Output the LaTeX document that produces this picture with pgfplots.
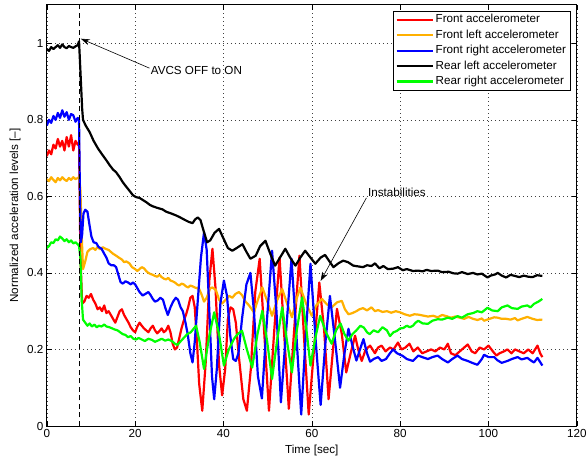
\documentclass[border=0pt]{standalone}
\usepackage{fontspec}
\setmainfont{Liberation Sans}
\usepackage{pgfplots}
\pgfplotsset{compat=1.18}
\usetikzlibrary{arrows.meta}
\definecolor{morange}{rgb}{1,0.69,0}
\newcommand{\ff}{\fontsize{11.7}{14}\selectfont}
\begin{document}
\begin{tikzpicture}
\begin{axis}[
  scale only axis, width=530bp, height=421bp,
  xmin=0, xmax=120, ymin=0, ymax=1.1,
  xtick={0,20,40,60,80,100,120},
  xticklabels={0,20,40,60,80,100,120},
  ytick={0,0.2,0.4,0.6,0.8,1},
  yticklabels={0,0.2,0.4,0.6,0.8,1},
  /pgf/number format/assume math mode=true,
  tick align=inside, tick pos=both, major tick length=5bp,
  tick style={black, line width=0.6bp},
  grid=major,
  major grid style={black!75, line width=0.5bp, dash pattern=on 0.8bp off 3.2bp},
  axis line style={black, line width=1bp},
  font=\ff, tick label style={font=\ff}, label style={font=\ff},
  xlabel={Time [sec]}, ylabel={Normalized acceleration levels [--]},
  xlabel style={at={(axis description cs:0.5,-0.057)}, anchor=center},
  ylabel style={at={(axis description cs:-0.06,0.5)}, anchor=center},
  legend style={at={(1,1)}, anchor=north east, xshift=-6.5bp, yshift=-6bp,
    draw=black, line width=0.8bp, fill=white, font=\ff,
    inner xsep=2bp, inner ysep=1bp, row sep=0.4bp,
    nodes={inner sep=2bp, text height=8.5bp, text depth=2.5bp}},
  legend cell align=left,
  legend image code/.code={\draw[#1, line width=2.2bp] (-1bp,0bp) -- (35bp,0bp);},
  every axis plot/.append style={line width=2.2bp, line join=round},
]
\addplot[red] table {
0 0.705
0.5 0.72
1 0.71
1.5 0.735
2 0.725
2.5 0.75
3 0.73
3.5 0.745
4 0.72
4.5 0.755
5 0.73
5.5 0.76
6 0.72
6.5 0.745
7 0.735
7.3 0.74
7.6 0.45
8.0 0.32
8.5 0.325
9.0 0.34
9.5 0.335
10.0 0.345
10.5 0.33
11.0 0.32
11.5 0.305
12.0 0.31
12.5 0.3
13.0 0.315
13.5 0.295
14.0 0.30
14.5 0.29
15.0 0.28
15.5 0.27
16.0 0.285
16.5 0.30
17.0 0.305
17.5 0.29
18.0 0.28
18.5 0.27
19.0 0.258
19.5 0.25
20.0 0.245
20.5 0.26
21.0 0.27
21.5 0.262
22.0 0.255
22.5 0.25
23.0 0.245
23.5 0.255
24.0 0.262
24.5 0.25
25.0 0.242
25.5 0.248
26.0 0.255
26.5 0.245
27.0 0.25
27.5 0.262
28.0 0.245
28.5 0.215
29.0 0.2
29.5 0.205
30.0 0.23
30.5 0.255
31.0 0.275
31.5 0.29
32.0 0.31
32.5 0.335
33.0 0.34
33.5 0.31
34.0 0.22
34.5 0.11
35.2 0.04
36.0 0.17
36.8 0.38
37.5 0.463
38.2 0.36
39.0 0.16
39.7 0.08
40.4 0.15
41.0 0.28
41.6 0.31
42.2 0.305
42.8 0.27
43.5 0.18
44.5 0.07
45.3 0.04
46.2 0.15
47.2 0.35
48.2 0.437
49.2 0.25
50.3 0.04
51.5 0.25
52.7 0.44
53.8 0.23
54.8 0.045
56.0 0.25
57.2 0.445
58.3 0.22
59.3 0.03
60.5 0.2
61.7 0.375
62.8 0.25
63.8 0.07
64.8 0.2
65.7 0.306
66.8 0.24
67.8 0.14
68.8 0.19
69.8 0.236
70.5 0.2
71.3 0.17
72.2 0.2
73.2 0.21
74.3 0.19
75.0 0.205
75.8 0.21
76.7 0.195
77.7 0.205
78.5 0.2
79.5 0.218
80.3 0.2
81.2 0.205
82.1 0.215
83.0 0.195
84.0 0.205
85.0 0.19
86.0 0.195
87.0 0.2
88.0 0.195
89.0 0.205
90.0 0.2
90.8 0.215
91.5 0.19
92.5 0.185
93.5 0.195
94.5 0.205
95.3 0.213
96.2 0.195
97.0 0.19
98.0 0.205
99.0 0.2
100.0 0.21
101.0 0.195
101.8 0.184
102.5 0.19
103.5 0.195
104.3 0.2
105.2 0.19
106.0 0.2
107.0 0.195
108.0 0.19
109.0 0.2
110.0 0.19
111.1 0.21
111.7 0.19
112.2 0.18
};
\addlegendentry{Front accelerometer}
\addplot[morange] table {
0 0.645
0.5 0.64
1 0.65
1.5 0.643
2 0.637
2.5 0.648
3 0.642
3.5 0.65
4 0.644
4.5 0.64
5 0.648
5.5 0.643
6 0.65
6.5 0.645
7 0.648
7.3 0.65
7.6 0.62
7.9 0.50
8.2 0.41
8.7 0.43
9.2 0.455
9.8 0.462
10.5 0.465
11.0 0.46
11.5 0.468
12.0 0.462
12.7 0.467
13.3 0.463
14.0 0.46
14.5 0.455
15.0 0.45
15.7 0.445
16.3 0.44
17.0 0.435
17.5 0.428
18.0 0.43
18.7 0.425
19.3 0.415
20.0 0.41
20.5 0.405
21.0 0.41
21.5 0.415
22.0 0.412
22.5 0.405
23.0 0.40
23.5 0.397
24.0 0.395
24.5 0.392
25.0 0.39
25.5 0.395
26.0 0.389
26.5 0.385
27.0 0.383
27.5 0.387
28.0 0.38
28.5 0.378
29.0 0.375
29.5 0.37
30.0 0.367
30.5 0.372
31.0 0.37
31.5 0.365
32.0 0.362
32.5 0.367
33.0 0.365
33.5 0.362
34.0 0.36
34.5 0.358
35.0 0.345
35.6 0.325
36.2 0.335
37.0 0.36
37.5 0.362
38.3 0.355
39.0 0.33
39.7 0.32
40.5 0.33
41.3 0.34
42.0 0.335
42.7 0.345
43.5 0.35
44.2 0.342
45.0 0.325
45.8 0.315
46.9 0.297
47.8 0.33
48.8 0.362
49.8 0.33
51.0 0.288
52.2 0.33
53.3 0.358
54.4 0.32
55.5 0.284
56.5 0.33
57.4 0.362
58.7 0.32
60.0 0.288
61.0 0.315
62.3 0.332
63.4 0.318
64.5 0.31
65.7 0.323
66.8 0.327
67.5 0.305
68.3 0.292
69.2 0.295
70.1 0.3
70.8 0.305
71.6 0.308
72.5 0.302
73.5 0.31
74.3 0.3
75.0 0.303
76.0 0.298
77.0 0.3
78.0 0.296
79.0 0.3
80.0 0.297
81.0 0.292
82.2 0.288
83.2 0.292
84.1 0.291
85.0 0.289
86.3 0.286
87.5 0.288
88.5 0.284
89.5 0.29
90.5 0.287
91.5 0.283
92.5 0.286
93.5 0.283
94.5 0.28
95.5 0.285
96.5 0.28
97.5 0.277
98.5 0.281
99.0 0.275
100.0 0.279
101.3 0.284
102.1 0.283
103.0 0.28
104.0 0.28
105.0 0.278
106.0 0.282
106.6 0.276
107.5 0.28
108.8 0.285
110.0 0.28
111.0 0.277
112.2 0.278
};
\addlegendentry{Front left accelerometer}
\addplot[blue] table {
0 0.785
0.5 0.80
1 0.792
1.5 0.81
2 0.80
2.5 0.818
3 0.805
3.5 0.825
4 0.808
4.5 0.82
5 0.80
5.5 0.815
6 0.812
6.5 0.795
7 0.805
7.3 0.80
7.5 0.60
7.7 0.48
8.0 0.50
8.3 0.555
8.7 0.565
9.2 0.56
9.6 0.53
10.1 0.495
10.6 0.48
11.2 0.478
11.7 0.468
12.4 0.463
13.0 0.45
13.5 0.44
14.0 0.425
14.6 0.42
15.2 0.42
15.7 0.415
16.2 0.395
16.7 0.376
17.2 0.372
17.8 0.378
18.4 0.375
19.0 0.37
19.5 0.375
20.0 0.37
20.5 0.36
21.0 0.35
21.7 0.341
22.3 0.345
23.0 0.35
23.5 0.342
24.0 0.332
24.5 0.325
25.1 0.328
25.7 0.335
26.3 0.33
26.8 0.31
27.4 0.29
28.0 0.31
28.6 0.325
29.2 0.335
29.7 0.33
30.3 0.31
30.8 0.3
31.4 0.27
31.9 0.24
32.5 0.19
33.0 0.166
33.5 0.22
34.2 0.33
34.9 0.44
35.6 0.506
36.2 0.46
36.8 0.3
37.4 0.13
37.9 0.07
38.5 0.15
39.3 0.32
40.1 0.38
40.8 0.34
41.5 0.24
42.2 0.175
42.8 0.17
43.4 0.19
44.2 0.28
45.2 0.37
46.1 0.40
46.9 0.30
47.8 0.13
48.7 0.072
49.8 0.27
51.0 0.458
52.0 0.30
53.0 0.062
54.2 0.25
55.4 0.437
56.5 0.24
57.6 0.03
58.7 0.25
59.7 0.424
60.9 0.22
62.0 0.055
63.1 0.22
64.1 0.34
65.3 0.22
66.4 0.10
67.4 0.19
68.3 0.254
69.2 0.21
70.1 0.171
70.9 0.2
71.7 0.227
72.5 0.19
73.2 0.168
74.0 0.175
75.0 0.18
75.8 0.17
76.8 0.175
77.7 0.19
78.4 0.2
79.3 0.19
80.6 0.183
81.5 0.175
82.9 0.17
84.1 0.184
85.0 0.18
86.3 0.175
87.3 0.18
88.5 0.184
89.5 0.175
90.8 0.166
91.8 0.175
93.0 0.184
94.0 0.175
95.3 0.17
96.3 0.165
97.5 0.16
98.5 0.175
99.0 0.186
100.0 0.18
101.3 0.18
102.0 0.172
103.0 0.165
104.3 0.17
105.3 0.175
106.6 0.18
107.5 0.174
108.8 0.178
109.5 0.172
110.3 0.166
111.1 0.178
112.2 0.158
};
\addlegendentry{Front right accelerometer}
\addplot[black] table {
0 0.985
0.5 0.98
1 0.99
1.5 0.985
2 0.99
2.5 0.995
3 0.988
3.5 0.997
4 0.99
4.5 0.987
5 0.993
5.5 0.99
6 0.988
6.5 0.992
7.0 0.995
7.3 1.005
7.6 0.93
8.0 0.83
8.2 0.80
8.8 0.785
9.7 0.768
10.6 0.745
11.6 0.725
12.5 0.71
13.5 0.694
14.2 0.682
15.0 0.67
15.7 0.663
16.5 0.65
17.2 0.637
18.0 0.625
18.7 0.615
19.5 0.603
20.2 0.598
21.0 0.596
21.8 0.59
22.5 0.585
23.3 0.578
24.0 0.574
25.0 0.57
26.2 0.566
27.0 0.56
28.0 0.556
29.3 0.55
30.2 0.545
31.0 0.54
31.5 0.537
32.2 0.533
33.0 0.53
33.6 0.54
34.2 0.545
34.8 0.538
35.5 0.51
36.3 0.48
37.0 0.485
38.0 0.505
39.0 0.515
40.0 0.49
41.0 0.465
42.0 0.458
43.0 0.465
44.3 0.475
45.2 0.455
46.1 0.437
47.3 0.445
48.3 0.47
49.5 0.484
50.6 0.45
51.7 0.419
52.8 0.44
54.0 0.463
55.1 0.44
56.3 0.419
57.4 0.44
58.5 0.458
59.7 0.44
60.8 0.424
62.0 0.44
63.0 0.447
64.0 0.43
64.9 0.415
66.0 0.425
67.1 0.432
68.2 0.428
69.4 0.419
70.5 0.417
71.6 0.415
72.5 0.42
73.5 0.418
74.3 0.425
75.3 0.412
76.2 0.418
77.2 0.41
78.4 0.411
79.5 0.415
80.6 0.407
81.5 0.41
82.9 0.405
84.1 0.406
85.1 0.404
86.0 0.408
87.0 0.405
88.5 0.406
89.5 0.402
91.0 0.403
92.0 0.399
93.0 0.398
94.0 0.402
95.3 0.397
96.5 0.4
97.5 0.396
98.5 0.398
99.8 0.388
100.5 0.393
101.5 0.396
102.1 0.4
103.0 0.393
104.0 0.388
105.0 0.395
106.0 0.392
107.0 0.389
108.0 0.393
109.0 0.39
110.0 0.389
111.0 0.394
112.2 0.392
};
\addlegendentry{Rear left accelerometer}
\addplot[green] table {
0 0.465
0.5 0.47
1 0.48
1.5 0.478
2 0.488
2.5 0.485
3 0.495
3.5 0.49
4 0.483
4.5 0.488
5 0.48
5.5 0.485
6 0.477
6.5 0.48
7.0 0.475
7.3 0.47
7.6 0.44
7.9 0.33
8.2 0.278
8.7 0.27
9.2 0.262
9.7 0.268
10.2 0.26
10.8 0.265
11.3 0.258
11.8 0.262
12.4 0.26
13.0 0.265
13.5 0.26
14.2 0.258
14.8 0.255
15.4 0.252
16.0 0.25
16.6 0.245
17.2 0.24
17.8 0.238
18.4 0.232
19.0 0.235
19.6 0.228
20.2 0.226
20.8 0.23
21.5 0.226
22.2 0.222
23.0 0.228
23.8 0.225
24.5 0.22
25.3 0.224
26.0 0.228
26.8 0.223
27.5 0.226
28.3 0.222
29.0 0.215
29.6 0.212
30.2 0.22
31.0 0.23
31.8 0.24
32.6 0.245
33.3 0.255
33.8 0.262
34.6 0.22
35.6 0.149
36.7 0.23
37.9 0.297
39.0 0.24
40.1 0.158
41.2 0.2
42.4 0.228
43.2 0.24
44.2 0.249
45.3 0.2
46.5 0.153
47.7 0.24
48.8 0.301
49.9 0.22
51.0 0.123
52.1 0.22
53.3 0.31
54.4 0.22
55.5 0.14
56.6 0.25
57.8 0.336
58.8 0.25
59.7 0.158
60.8 0.23
61.9 0.288
63.2 0.245
64.5 0.215
65.5 0.25
66.5 0.268
67.4 0.24
68.3 0.223
69.2 0.24
70.1 0.25
71.0 0.262
71.8 0.257
72.5 0.245
73.1 0.24
74.0 0.25
75.0 0.245
76.0 0.258
77.0 0.25
77.7 0.235
78.5 0.245
79.2 0.248
80.0 0.255
80.7 0.256
81.5 0.262
82.2 0.258
82.9 0.262
83.5 0.27
84.1 0.275
85.1 0.268
86.3 0.267
87.3 0.275
88.5 0.279
89.5 0.278
90.8 0.283
91.8 0.28
93.0 0.287
94.0 0.283
95.3 0.292
96.5 0.295
97.5 0.3
98.5 0.297
99.8 0.309
100.8 0.302
102.1 0.3
103.0 0.31
104.3 0.315
105.3 0.308
106.6 0.306
107.5 0.312
108.8 0.315
109.5 0.31
110.3 0.319
111.3 0.325
112.2 0.332
};
\addlegendentry{Rear right accelerometer}
\addplot[forget plot, black, line width=0.8bp, dash pattern=on 5bp off 3.5bp] coordinates {(7.3,0) (7.3,1.1)};
\draw[black, line width=0.6bp, -{Stealth[length=9bp, width=6bp]}] (axis cs:23.25,0.935) -- (axis cs:7.7,1.012);
\node[anchor=west, inner sep=0.5bp, font=\ff] at (axis cs:23.4,0.93) {AVCS OFF to ON};
\draw[black, line width=0.6bp, -{Stealth[length=9bp, width=6bp]}] (axis cs:72.36,0.596) -- (axis cs:62.0,0.379);
\node[anchor=west, inner sep=0.5bp, font=\ff] at (axis cs:72.6,0.611) {Instabilities};
\end{axis}
\pgfresetboundingbox
\path[use as bounding box] ([shift={(-46.8bp,-33bp)}]current axis.south west) rectangle ([shift={(10.2bp,5bp)}]current axis.north east);
\end{tikzpicture}
\end{document}
